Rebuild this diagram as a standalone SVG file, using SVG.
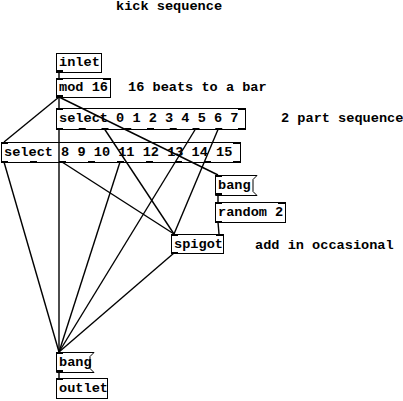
<svg xmlns="http://www.w3.org/2000/svg" width="403" height="401" viewBox="0 0 403 401">
<style>
text{font-family:"Liberation Mono","Courier New",monospace;font-weight:bold;font-size:13.6px;fill:#000}
.box{fill:none;stroke:#000;stroke-width:1}
.io{fill:#000}
.wire{stroke:#000;stroke-width:1.4;fill:none}
</style>
<rect width="403" height="401" fill="#fff"/>
<g id="comments">
<text x="116" y="10">kick sequence</text>
<text x="128" y="91">16 beats to a bar</text>
<text x="281" y="122">2 part sequence</text>
<text x="255" y="249">add in occasional</text>
</g>
<g id="inlet">
<rect class="box" x="56.5" y="53.5" width="45" height="19"/>
<rect class="io" x="56" y="70" width="7" height="2"/>
<text x="59" y="66">inlet</text>
</g>
<g id="mod16">
<rect class="box" x="56.5" y="78.5" width="54" height="19"/>
<rect class="io" x="56" y="78" width="7" height="2"/>
<rect class="io" x="103" y="78" width="7" height="2"/>
<rect class="io" x="56" y="95" width="7" height="2"/>
<text x="59" y="91">mod 16</text>
</g>
<g id="select1">
<rect class="box" x="56.5" y="108.5" width="189" height="21"/>
<rect class="io" x="56" y="108" width="7" height="2"/>
<rect class="io" x="238" y="108" width="7" height="2"/>
<rect class="io" x="56" y="128" width="7" height="2"/>
<rect class="io" x="78.75" y="128" width="7" height="2"/>
<rect class="io" x="101.5" y="128" width="7" height="2"/>
<rect class="io" x="124.25" y="128" width="7" height="2"/>
<rect class="io" x="147" y="128" width="7" height="2"/>
<rect class="io" x="169.75" y="128" width="7" height="2"/>
<rect class="io" x="192.5" y="128" width="7" height="2"/>
<rect class="io" x="215.25" y="128" width="7" height="2"/>
<rect class="io" x="238" y="128" width="7" height="2"/>
<text x="59" y="122">select 0 1 2 3 4 5 6 7</text>
</g>
<g id="select2">
<rect class="box" x="1.5" y="142.5" width="239" height="20"/>
<rect class="io" x="1" y="142" width="7" height="2"/>
<rect class="io" x="233" y="142" width="7" height="2"/>
<rect class="io" x="1" y="161" width="7" height="2"/>
<rect class="io" x="30" y="161" width="7" height="2"/>
<rect class="io" x="59" y="161" width="7" height="2"/>
<rect class="io" x="88" y="161" width="7" height="2"/>
<rect class="io" x="117" y="161" width="7" height="2"/>
<rect class="io" x="146" y="161" width="7" height="2"/>
<rect class="io" x="175" y="161" width="7" height="2"/>
<rect class="io" x="204" y="161" width="7" height="2"/>
<rect class="io" x="233" y="161" width="7" height="2"/>
<text x="4" y="156">select 8 9 10 11 12 13 14 15</text>
</g>
<g id="bang1">
<path class="box" d="M215.5,175.5 H257 L253,179.5 V191.5 L257,195.5 H215.5 Z"/>
<rect class="io" x="215" y="175" width="7" height="2"/>
<rect class="io" x="215" y="193" width="7" height="2"/>
<text x="218" y="189">bang</text>
</g>
<g id="random2">
<rect class="box" x="215.5" y="202.5" width="70" height="20"/>
<rect class="io" x="215" y="202" width="7" height="2"/>
<rect class="io" x="278" y="202" width="7" height="2"/>
<rect class="io" x="215" y="221" width="7" height="2"/>
<text x="218" y="216">random 2</text>
</g>
<g id="spigot">
<rect class="box" x="171.5" y="234.5" width="52" height="19"/>
<rect class="io" x="171" y="234" width="7" height="2"/>
<rect class="io" x="216" y="234" width="7" height="2"/>
<rect class="io" x="171" y="252" width="7" height="2"/>
<text x="174" y="248">spigot</text>
</g>
<g id="bang2">
<path class="box" d="M56.5,352.5 H94 L90,356.5 V368.5 L94,372.5 H56.5 Z"/>
<rect class="io" x="56" y="352" width="7" height="2"/>
<rect class="io" x="56" y="370" width="7" height="2"/>
<text x="59" y="366">bang</text>
</g>
<g id="outlet">
<rect class="box" x="56.5" y="378.5" width="51" height="20"/>
<rect class="io" x="56" y="378" width="7" height="2"/>
<text x="59" y="392">outlet</text>
</g>
<g id="connectors">
<line class="wire" x1="59" y1="72" x2="59" y2="78"/>
<line class="wire" x1="59" y1="97" x2="59" y2="108"/>
<line class="wire" x1="59" y1="97" x2="4" y2="142"/>
<line class="wire" x1="59" y1="97" x2="218" y2="175"/>
<line class="wire" x1="59" y1="129" x2="59" y2="352"/>
<line class="wire" x1="104.5" y1="129" x2="174" y2="234"/>
<line class="wire" x1="195.5" y1="129" x2="59" y2="352"/>
<line class="wire" x1="218.2" y1="129" x2="174" y2="234"/>
<line class="wire" x1="4" y1="162" x2="59" y2="352"/>
<line class="wire" x1="62" y1="162" x2="174" y2="234"/>
<line class="wire" x1="120" y1="162" x2="59" y2="352"/>
<line class="wire" x1="218" y1="195" x2="218" y2="202"/>
<line class="wire" x1="218" y1="222" x2="219" y2="234"/>
<line class="wire" x1="174" y1="253" x2="59" y2="352"/>
<line class="wire" x1="59" y1="372" x2="59" y2="378"/>
</g>
</svg>
